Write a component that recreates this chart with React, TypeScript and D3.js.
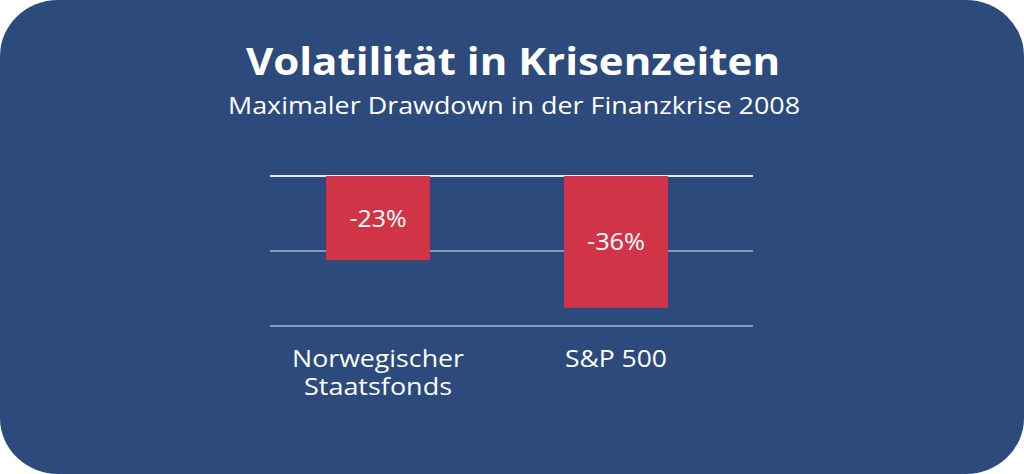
import React from "react";
import * as d3 from "d3";

const categories: string[][] = [["Norwegischer", "Staatsfonds"], ["S&P 500"]];
const drawdowns: number[] = [-23, -36];
const title = "Volatilität in Krisenzeiten";
const subtitle = "Maximaler Drawdown in der Finanzkrise 2008";

const W = 1024;
const H = 474;
const BG = "#2c4a7b";
const BAR = "#d23447";
const FONT = "'Open Sans', 'DejaVu Sans', sans-serif";

export default function App() {
  const keys = categories.map((c) => c.join(" "));
  const x = d3
    .scaleBand<string>()
    .domain(keys)
    .range([259, 735])
    .paddingInner(0.563)
    .paddingOuter(0.2815);
  const y = d3.scaleLinear().domain([0, -41]).range([176, 326]);
  const gridVals = d3.range(0, 3).map((i) => (y.domain()[1] * i) / 2);

  const labelWidths = [57, 58];
  const catWidths = [[172, 148], [102]];

  return (
    <svg
      width={W}
      height={H}
      style={{ position: "absolute", left: 0, top: 0 }}
      fontFamily={FONT}
    >
      <rect x={0} y={0} width={W} height={H} fill="#ffffff" />
      <rect x={0} y={0} width={W} height={H} rx={58} ry={56} fill={BG} />
      <text
        x={513}
        y={75}
        textAnchor="middle"
        fill="#ffffff"
        fontWeight={700}
        fontSize={38}
        textLength={534}
        lengthAdjust="spacingAndGlyphs"
      >
        {title}
      </text>
      <text
        x={514}
        y={114}
        textAnchor="middle"
        fill="#ffffff"
        fontSize={24.5}
        textLength={572}
        lengthAdjust="spacingAndGlyphs"
      >
        {subtitle}
      </text>
      {gridVals.map((v, i) => (
        <line
          key={i}
          x1={270}
          x2={753}
          y1={y(v)}
          y2={y(v)}
          stroke={i === 0 ? "#e4e8f0" : "#a9b6cf"}
          strokeWidth={i === 0 ? 2 : 1.5}
        />
      ))}
      {drawdowns.map((v, i) => {
        const bx = x(keys[i]) as number;
        const y0 = y(0);
        const y1 = y(v);
        return (
          <g key={i}>
            <rect x={bx} y={y0} width={x.bandwidth()} height={y1 - y0} fill={BAR} />
            <text
              x={bx + x.bandwidth() / 2}
              y={(y0 + y1) / 2 + 8.5}
              textAnchor="middle"
              fill="#ffffff"
              fontSize={24.5}
              textLength={labelWidths[i]}
              lengthAdjust="spacingAndGlyphs"
            >
              {`${v}%`}
            </text>
          </g>
        );
      })}
      {categories.map((lines, i) => {
        const cx = (x(keys[i]) as number) + x.bandwidth() / 2;
        return lines.map((ln, j) => (
          <text
            key={`${i}-${j}`}
            x={cx}
            y={366.5 + j * 28}
            textAnchor="middle"
            fill="#ffffff"
            fontSize={24}
            textLength={catWidths[i][j]}
            lengthAdjust="spacingAndGlyphs"
          >
            {ln}
          </text>
        ));
      })}
    </svg>
  );
}
